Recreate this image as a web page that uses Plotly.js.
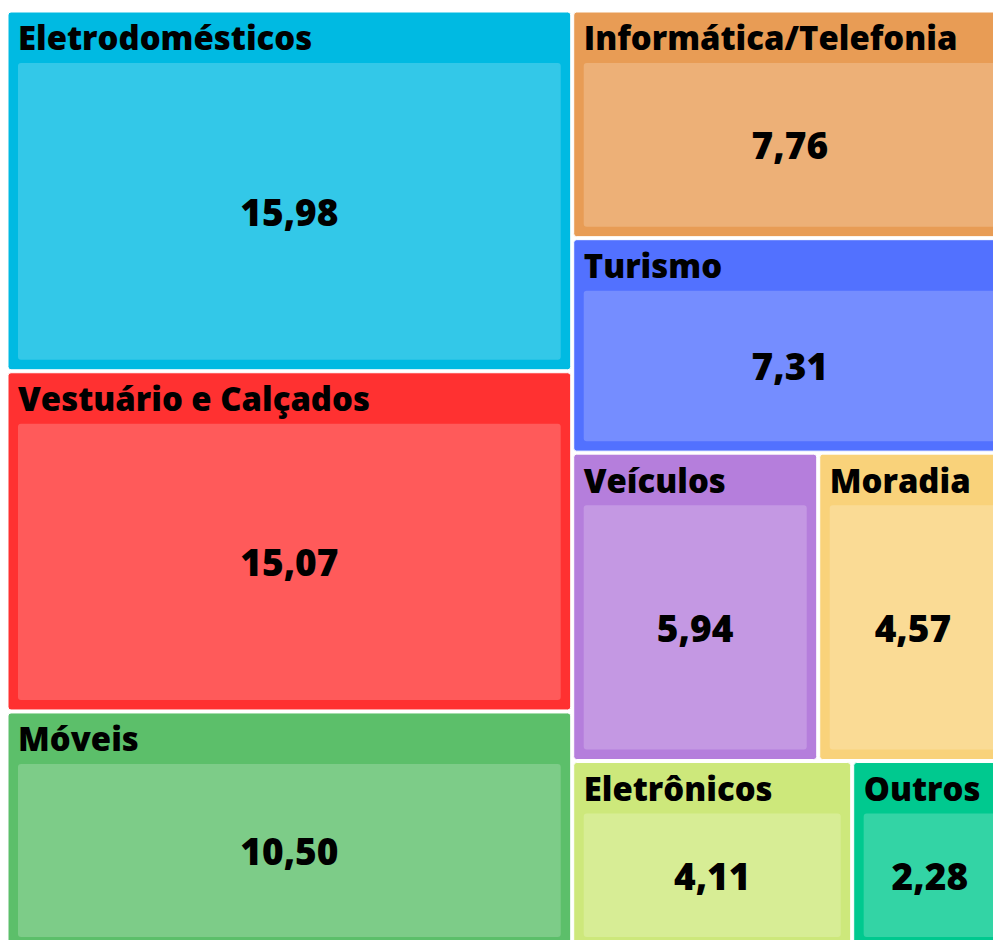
<!DOCTYPE html>
<html><head><meta charset="utf-8">
<script src="https://cdn.plot.ly/plotly-3.0.1.min.js"></script>
<style>html,body{margin:0;padding:0;overflow:hidden;background:#fff}
#chart{position:absolute;left:-2px;top:-39px}</style>
</head><body><div id="chart"></div>
<script>
const categories = ["Eletrodomésticos","Vestuário e Calçados","Móveis","Informática/Telefonia","Turismo","Veículos","Moradia","Eletrônicos","Outros"];
const values = [15.98, 15.07, 10.50, 7.76, 7.31, 5.94, 4.57, 4.11, 2.28];
const palette = ["#00BAE2","#FF3131","#5CBF6A","#E89C55","#5271FF","#B57EDC","#F9D27A","#CDE87B","#00C98F"];

function lighten(hex, a) {
  const n = parseInt(hex.slice(1), 16);
  const r = (n >> 16) & 255, g = (n >> 8) & 255, b = n & 255;
  const m = c => Math.round(c * a + 255 * (1 - a));
  return `rgb(${m(r)},${m(g)},${m(b)})`;
}

const CLEAR = "rgba(0,0,0,0)";
const ids = [], labels = [], parents = [], vals = [], cols = [], lw = [];
const headTmpl = [], leafTmpl = [], headSize = [], leafSize = [], headColor = [], leafColor = [];
categories.forEach((c, i) => {
  ids.push(c); labels.push(c); parents.push(""); vals.push(values[i]);
  cols.push(palette[i]); lw.push(1);
  headTmpl.push("%{label}"); leafTmpl.push("%{label}");
  headSize.push(38); leafSize.push(1);
  headColor.push("#000"); leafColor.push(CLEAR);
});
categories.forEach((c, i) => {
  ids.push(c + "/v"); labels.push(c + " valor"); parents.push(c); vals.push(values[i]);
  cols.push(lighten(palette[i], 0.8)); lw.push(0);
  headTmpl.push("%{value:.2f}"); leafTmpl.push("%{value:.2f}");
  headSize.push(1); leafSize.push(37);
  headColor.push(CLEAR); leafColor.push("#000");
});

const common = {
  type: "treemap",
  ids: ids, labels: labels, parents: parents, values: vals,
  branchvalues: "total",
  sort: true,
  tiling: {packing: "binary"},
  leaf: {opacity: 1},
  pathbar: {visible: false},
  hoverinfo: "label+value"
};

const boxes = Object.assign({}, common, {
  texttemplate: headTmpl,
  textposition: "top left",
  textfont: {family: "Open Sans", weight: 800, size: headSize, color: headColor},
  insidetextfont: {family: "Open Sans", weight: 800, size: headSize, color: headColor},
  marker: {colors: cols, line: {color: "#fff", width: lw}, pad: {t: 51, l: 10, r: 10, b: 10}, cornerradius: 3}
});

const numbers = Object.assign({}, common, {
  texttemplate: leafTmpl,
  textposition: "middle center",
  textfont: {family: "Open Sans", weight: 800, size: leafSize, color: leafColor},
  insidetextfont: {family: "Open Sans", weight: 800, size: leafSize, color: leafColor},
  marker: {colors: ids.map(() => CLEAR), line: {color: CLEAR, width: 0}, pad: {t: 51, l: 10, r: 10, b: 10}, cornerradius: 3},
  hoverinfo: "skip"
});

const layout = {
  width: 1018, height: 996,
  margin: {l: 0, r: 0, t: 0, b: 0},
  paper_bgcolor: CLEAR,
  separators: ",.",
  showlegend: false
};

Plotly.newPlot("chart", [boxes, numbers], layout, {displayModeBar: false});
</script></body></html>
